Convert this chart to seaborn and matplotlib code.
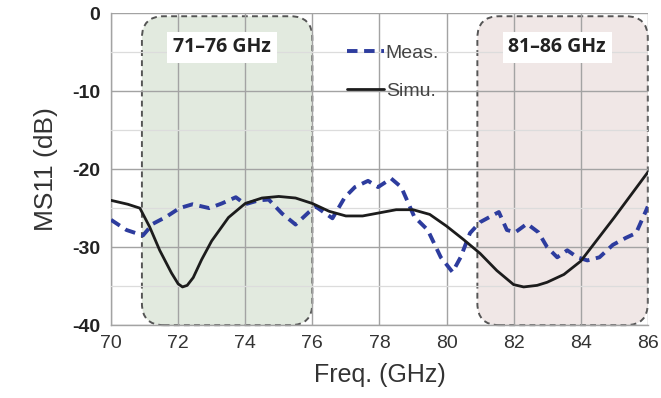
import numpy as np
import pandas as pd
import matplotlib
matplotlib.use("Agg")
import matplotlib.pyplot as plt
import seaborn as sns
from matplotlib.patches import FancyBboxPatch
from matplotlib.lines import Line2D
from matplotlib.ticker import MultipleLocator

# ---- data ----
meas_f = [70.0, 70.46, 70.95, 71.25, 71.65, 72.04, 72.43, 72.93, 73.3, 73.72, 74.0, 74.4,
          74.7, 75.1, 75.5, 75.9, 76.1, 76.6, 76.97, 77.27, 77.66, 77.96, 78.35, 78.65,
          79.04, 79.44, 79.83, 80.18, 80.42, 80.7, 81.0, 81.3, 81.56, 81.8, 82.05, 82.4,
          82.74, 83.0, 83.3, 83.6, 83.9, 84.2, 84.56, 84.96, 85.35, 85.65, 85.95, 86.0]
meas_db = [-26.5, -27.8, -28.5, -27.0, -26.1, -25.0, -24.5, -25.0, -24.4, -23.6, -24.5, -24.0,
           -23.9, -25.7, -27.1, -25.5, -24.8, -26.3, -23.6, -22.3, -21.5, -22.3, -21.2, -22.3,
           -26.1, -27.8, -31.3, -33.2, -31.3, -28.2, -26.8, -26.1, -25.5, -27.8, -28.1, -27.0,
           -28.1, -30.0, -31.3, -30.4, -31.3, -31.7, -31.3, -29.7, -28.8, -28.2, -25.3, -24.8]

simu_f = [70.0, 70.5, 70.86, 71.15, 71.45, 71.8, 72.0, 72.13, 72.27, 72.45, 72.7, 73.0, 73.5,
          74.0, 74.5, 75.0, 75.5, 76.0, 76.5, 77.0, 77.5, 78.0, 78.5, 79.0, 79.5, 80.0, 80.5,
          81.0, 81.5, 82.0, 82.3, 82.7, 83.0, 83.5, 84.0, 84.5, 85.0, 85.5, 86.0]
simu_db = [-24.0, -24.5, -25.0, -27.4, -30.4, -33.3, -34.7, -35.1, -34.9, -33.9, -31.6, -29.2,
           -26.2, -24.4, -23.7, -23.5, -23.7, -24.4, -25.4, -26.0, -26.0, -25.6, -25.2, -25.2,
           -25.8, -27.3, -29.0, -30.8, -33.0, -34.8, -35.1, -34.9, -34.5, -33.5, -31.8, -29.0,
           -26.2, -23.3, -20.4]

bands = [(71, 76), (81, 86)]
band_labels = ["71\u201376 GHz", "81\u201386 GHz"]
band_colors = ["#e2eadf", "#f0e7e6"]
series_names = ["Meas.", "Simu."]

df = pd.concat([
    pd.DataFrame({"f": meas_f, "db": meas_db, "s": series_names[0]}),
    pd.DataFrame({"f": simu_f, "db": simu_db, "s": series_names[1]}),
])

sns.set_theme(style="white")
plt.rcParams["font.family"] = ["Liberation Sans", "DejaVu Sans"]

fig = plt.figure(figsize=(6.61, 3.98), dpi=100)
ax_w = 0.812
ax = fig.add_axes([0.168, 0.183, ax_w, 0.784])

ax.set_xlim(70, 86)
ax.set_ylim(-40, 0)

# bands (rounded dashed boxes)
x_px_per = ax_w * 661 / 16
y_px_per = 0.784 * 398 / 40
aspect = x_px_per / y_px_per
for (a, b), col in zip(bands, band_colors):
    p = FancyBboxPatch((a - 0.08, -40), (b - a) + 0.08, 39.6,
                       boxstyle="round,pad=0,rounding_size=0.65",
                       mutation_aspect=aspect,
                       facecolor=col, edgecolor="#555555", linewidth=1.4,
                       linestyle=(0, (3, 2.2)), zorder=0.5, clip_on=False)
    ax.add_patch(p)

ax.xaxis.set_major_locator(MultipleLocator(2))
ax.xaxis.set_minor_locator(MultipleLocator(1))
ax.yaxis.set_major_locator(MultipleLocator(10))
ax.yaxis.set_minor_locator(MultipleLocator(5))
ax.grid(which="major", axis="both", color="#a3a3a3", linewidth=1.0)
ax.grid(which="minor", axis="y", color="#dcdcdc", linewidth=0.9)
ax.set_axisbelow(False)
for gl in ax.get_xgridlines() + ax.get_ygridlines():
    gl.set_zorder(0.8)

sns.lineplot(data=df, x="f", y="db", hue="s", style="s",
             palette={series_names[0]: "#2d3c9e", series_names[1]: "#1c1c1c"},
             dashes={series_names[0]: (2.7, 1.7), series_names[1]: ""},
             ax=ax, legend=False, sort=False, zorder=3)
lines = ax.get_lines()[-2:]
lines[0].set_linewidth(2.8)
lines[1].set_linewidth(2.0)
for ln in lines:
    ln.set_solid_joinstyle("round")
    ln.set_dash_joinstyle("round")

for (a, b), lab in zip(bands, band_labels):
    ax.text((a + b) / 2 - 0.2, -4.4, lab, ha="center", va="center",
            fontsize=14, fontweight="bold", color="#222222",
            family=["Open Sans", "DejaVu Sans"],
            bbox=dict(boxstyle="square,pad=0.3", facecolor="white", edgecolor="none"),
            zorder=4)

handles = [Line2D([], [], color="#2d3c9e", lw=2.8, dashes=(2.7, 1.7)),
           Line2D([], [], color="#1c1c1c", lw=2.0)]
leg = ax.legend(handles, series_names, loc="upper left", bbox_to_anchor=(0.425, 0.925),
                frameon=False, fontsize=14, handlelength=1.9, handletextpad=0.1,
                labelspacing=1.05, borderaxespad=0)
for t in leg.get_texts():
    t.set_color("#444444")

for s in ["top", "right"]:
    ax.spines[s].set_visible(False)
for s in ["left", "bottom"]:
    ax.spines[s].set_color("#a3a3a3")
    ax.spines[s].set_linewidth(1.0)

ax.tick_params(axis="x", which="major", direction="inout", length=8, width=1,
               color="#a3a3a3", labelsize=14, labelcolor="#333333", pad=3)
ax.tick_params(axis="x", which="minor", direction="in", length=4, width=1, color="#a3a3a3")
ax.tick_params(axis="y", which="major", direction="inout", length=12, width=1,
               color="#a3a3a3", labelsize=14, labelcolor="#222222", pad=2)
ax.tick_params(axis="y", which="minor", direction="in", length=4, width=1, color="#a3a3a3")
ax.set_xticks([70, 72, 74, 76, 78, 80, 82, 84, 86])
ax.set_yticks([0, -10, -20, -30, -40])
ax.set_yticklabels(["0", "-10", "-20", "-30", "-40"], fontweight="bold")

ax.set_xlabel("Freq. (GHz)", fontsize=18, color="#333333", labelpad=8)
ax.set_ylabel("MS11 (dB)", fontsize=19, color="#333333", labelpad=10)

fig.savefig("out.png", dpi=100)
